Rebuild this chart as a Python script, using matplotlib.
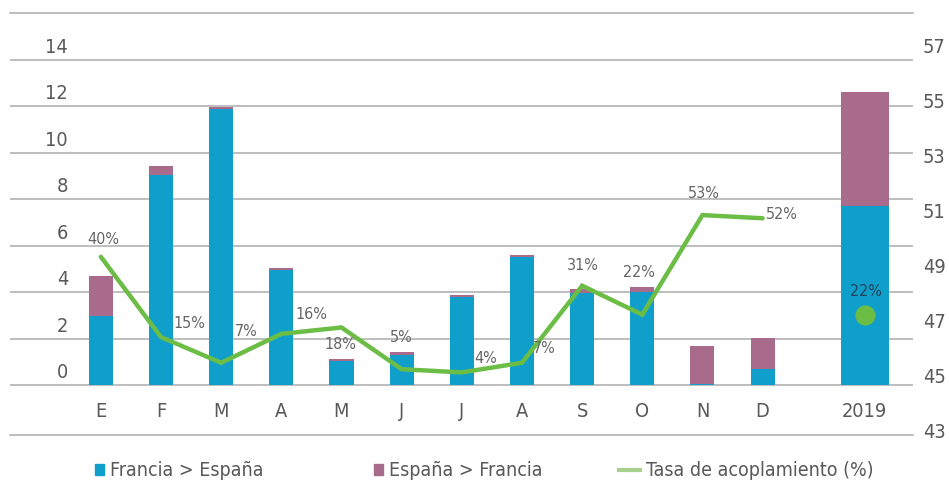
import numpy as np
import matplotlib
matplotlib.use("Agg")
import matplotlib.pyplot as plt
from matplotlib.transforms import ScaledTranslation
from matplotlib.patches import Patch
from matplotlib.lines import Line2D

plt.rcParams.update(
    {
        "font.family": ["DejaVu Sans"],
        "font.stretch": "condensed",
        "font.size": 14.3,
        "text.color": "#595959",
        "xtick.color": "#595959",
        "ytick.color": "#595959",
    }
)

# monthly exchange values (left axis) and coupling rate (%)
months = ["E", "F", "M", "A", "M", "J", "J", "A", "S", "O", "N", "D"]
fr_es = [2.96, 9.03, 11.88, 4.94, 1.05, 1.32, 3.78, 5.50, 3.95, 4.03, 0.06, 0.69]
es_fr = [1.72, 0.38, 0.07, 0.12, 0.08, 0.10, 0.10, 0.10, 0.19, 0.21, 1.62, 1.36]
coupling = [40, 15, 7, 16, 18, 5, 4, 7, 31, 22, 53, 52]

year_label = "2019"
year_fr_es = 7.69
year_es_fr = 4.91
year_coupling = 22

left_ticks = [0, 2, 4, 6, 8, 10, 12, 14]
right_ticks = [43, 45, 47, 49, 51, 53, 55, 57]

BLUE = "#109fca"
PINK = "#a86b8c"
GREEN = "#6bbd45"
GRID = "#b3b3b3"

# label offsets in pixels (dx, dy up) relative to each line point
label_offsets = [(2, 17), (28, 14), (25, 31), (30, 19), (-1, -17), (0, 32),
                 (24, 14), (22, 14), (1, 20), (-3, 42), (1, 22), (19, 4)]

fig = plt.figure(figsize=(9.49, 4.83), dpi=100)
ax = fig.add_axes([10 / 949, 1 - 435 / 483, 903 / 949, 421.7 / 483])

x = np.arange(len(months))
x_year = len(months) + 0.7

ax.bar(x, fr_es, width=0.4, color=BLUE, zorder=2)
ax.bar(x, es_fr, width=0.4, bottom=fr_es, color=PINK, zorder=2)
ax.bar(x_year, year_fr_es, width=0.8, color=BLUE, zorder=2)
ax.bar(x_year, year_es_fr, width=0.8, bottom=year_fr_es, color=PINK, zorder=2)

ax.set_xlim(-1.51, 13.5)
ax.set_ylim(-2.14, 16)
ax.set_xticks(list(x) + [x_year])
ax.set_xticklabels(months + [year_label])
ax.tick_params(axis="x", length=0, pad=-23.5)
ax.set_yticks(left_ticks)
ax.tick_params(axis="y", length=0, pad=-41.8)
ax.yaxis.grid(True, color=GRID, lw=1.2)
ax.set_axisbelow(True)
for lab in ax.get_yticklabels():
    lab.set_transform(lab.get_transform() + ScaledTranslation(0, 10.3 / 72, fig.dpi_scale_trans))
for side in ["left", "right"]:
    ax.spines[side].set_visible(False)
for side in ["top", "bottom"]:
    ax.spines[side].set_color(GRID)
    ax.spines[side].set_linewidth(1.2)

# right axis labels
ax2 = ax.twinx()
ax2.set_ylim(42.82, 58.18)
ax2.set_yticks(right_ticks)
ax2.tick_params(axis="y", length=0, pad=7.2)
for side in ax2.spines:
    ax2.spines[side].set_visible(False)

# coupling rate line
ax3 = ax.twinx()
ax3.set_ylim(-2.14 * 7.24, 16 * 7.24)
ax3.axis("off")
ax3.plot(x, coupling, color=GREEN, lw=3.2, solid_capstyle="round", solid_joinstyle="miter")
ax3.plot([x_year], [year_coupling], "o", color=GREEN, ms=13.5)
for xi, val, (dx, dy) in zip(x, coupling, label_offsets):
    ax3.annotate(f"{val}%", (xi, val), xytext=(dx * 0.72, dy * 0.72),
                 textcoords="offset points", ha="center", va="center",
                 fontsize=11.5, color="#666666")
ax3.annotate(f"{year_coupling}%", (x_year, year_coupling), xytext=(1, 23.5 * 0.72),
             textcoords="offset points", ha="center", va="center",
             fontsize=11.5, color="#23415a")

# legend
items = [
    (Patch(color=BLUE), "Francia > España", 95),
    (Patch(color=PINK), "España > Francia", 374),
    (Line2D([], [], color="#a9d18e", lw=3), "Tasa de acoplamiento (%)", 619),
]
for handle, text, xpos in items:
    is_line = isinstance(handle, Line2D)
    fig.legend(
        [handle], [text], loc="center left",
        bbox_to_anchor=(xpos / 949, 1 - 471 / 483),
        frameon=False, borderpad=0, borderaxespad=0,
        handlelength=1.1 if is_line else 0.45,
        handleheight=0.45, handletextpad=0.3,
        fontsize=14.0, labelcolor="#595959",
    )

fig.savefig("out.png", dpi=100)
